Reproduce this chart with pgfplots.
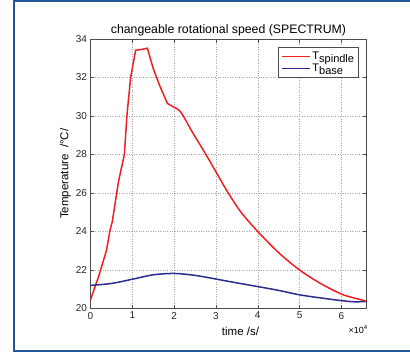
\documentclass[border=0pt]{standalone}
\usepackage{pgfplots}
\pgfplotsset{compat=1.18}
\usepackage{fontspec}
\setmainfont{Liberation Sans}
\definecolor{frameblue}{RGB}{35,85,155}
\definecolor{myred}{RGB}{238,32,36}
\definecolor{myblue}{RGB}{44,44,140}
\begin{document}
\begin{tikzpicture}[x=1pt,y=1pt]
\useasboundingbox (0,0) rectangle (410,354);
\fill[white] (0,0) rectangle (410,354);
\draw[frameblue, line width=2pt] (411,352.5) -- (13.5,352.5) -- (13.5,3.5) -- (411,3.5);
\begin{axis}[
  at={(90.5pt,45.5pt)}, anchor=south west,
  width=276pt, height=269.5pt, scale only axis,
  xmin=0, xmax=6.6, ymin=20, ymax=34,
  clip=false,
  xtick={0,1,...,6}, ytick={20,22,...,34},
  grid=major, grid style={dotted, gray!70, line width=0.5pt},
  tick align=inside, major tick length=3.5pt,
  tick style={gray!60!black, line width=0.5pt},
  axis line style={gray!60!black, line width=0.6pt},
  ticklabel style={font=\fontsize{10}{11}\selectfont, text=black!85},
  /pgf/number format/assume math mode=true,
  title={changeable rotational speed (SPECTRUM)},
  title style={font=\fontsize{12.3}{14}\selectfont, at={(axis description cs:0.5,1)}, anchor=south, yshift=-7pt},
  xlabel={time /s/},
  xlabel style={font=\fontsize{11.5}{13}\selectfont, at={(axis description cs:0.5,0)}, anchor=north, yshift=-15pt, xshift=12pt},
  ylabel={Temperature\ \ /°C/},
  every axis y label/.style={font=\fontsize{11.5}{13}\selectfont, at={(axis description cs:0,0.5)}, xshift=-25pt, rotate=90, anchor=center},
  legend style={at={(rel axis cs:0.972,0.97)}, anchor=north east, draw=gray!60!black, font=\fontsize{11}{12}\selectfont, row sep=-1pt, inner sep=2.5pt},
  legend cell align=left,
  legend image code/.code={\draw[#1] (0pt,0pt) -- (28pt,0pt);},
]
\addplot[myred, line width=1.5pt] coordinates {
(0,20.45) (0.2,21.7) (0.38,23.0) (0.47,24.1) (0.52,24.5) (0.67,26.6) (0.81,28.0)
(0.87,30.0) (0.96,32.0) (1.08,33.42) (1.2,33.45) (1.36,33.52) (1.5,32.47) (1.65,31.6)
(1.84,30.65) (2.0,30.45)
};
\addlegendentry{T\raisebox{-3.5pt}{spindle}}
\addplot[myblue, line width=1.5pt, smooth] coordinates {
(0,21.2) (0.5,21.3) (1,21.52) (1.5,21.75) (2,21.82) (2.5,21.72) (3,21.53) (3.5,21.33)
(4,21.14) (4.5,20.94) (5,20.71) (5.5,20.55) (6,20.41) (6.3,20.35) (6.6,20.36)
};
\addlegendentry{T\raisebox{-3.5pt}{base}}
\addplot[myred, line width=1.5pt, smooth, forget plot] coordinates {
(2.0,30.45) (2.16,30.2) (2.44,29.15) (2.76,28.0) (3.0,27.1) (3.28,26.05)
(3.6,25.0) (4.0,24.0) (4.5,22.9) (5.0,22.0) (5.5,21.3) (6.0,20.75) (6.3,20.55) (6.6,20.38)
};
\node[anchor=north east, font=\fontsize{9}{10}\selectfont, inner sep=0pt] at (rel axis cs:1.005,0) [yshift=-17pt] {×10\textsuperscript{4}};
\end{axis}
\end{tikzpicture}
\end{document}
